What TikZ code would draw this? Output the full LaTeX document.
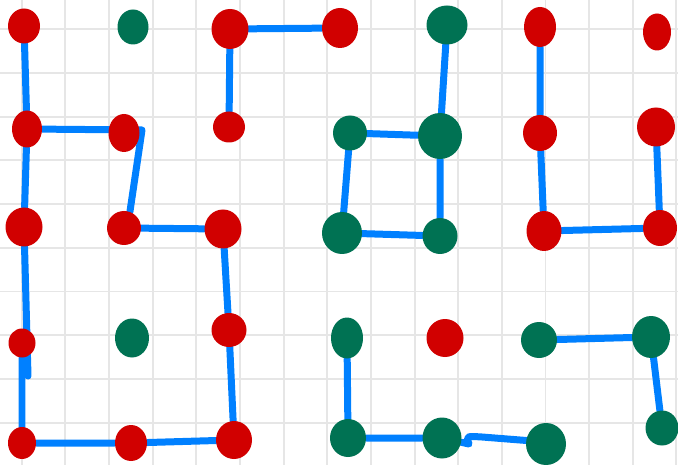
\documentclass[tikz,border=0pt]{standalone}
\usepackage{tikz}
\usetikzlibrary{
  shapes.geometric,
  backgrounds
}
\tikzset{
  every node/.style={inner sep=0pt}
}
\definecolor{dotRed}{RGB}{209, 0, 0}
\definecolor{dotGreen}{RGB}{0, 114, 83}
\definecolor{linkBlue}{RGB}{0, 128, 255}
\definecolor{gridGray}{RGB}{230, 230, 230}

\begin{document}
\begin{tikzpicture}[
    x=0.02cm, y=-0.02cm,
    dot/.style={ellipse, draw=none, inner sep=0pt},
    reddot/.style={dot, fill=dotRed},
    greendot/.style={dot, fill=dotGreen},
    sz/.style 2 args={minimum width=#1*0.02cm, minimum height=#2*0.02cm},
    gridline/.style={draw=gridGray, line width=1.1pt},
    link/.style={draw=linkBlue, line width=0.14cm, line cap=round, line join=round}
]

    \useasboundingbox (0,0) rectangle (678,465);

    % row 1
    \node[reddot, sz={32}{35}] (a1) at (24,26) {};
    \node[greendot, sz={31}{35}] (b1) at (133,27) {};
    \node[reddot, sz={37}{40}] (c1) at (230,29) {};
    \node[reddot, sz={36}{40}] (d1) at (340,28) {};
    \node[greendot, sz={41}{39}] (e1) at (447,25) {};
    \node[reddot, sz={32}{40}] (f1) at (540,27) {};
    \node[reddot, sz={28}{37}] (g1) at (657,32) {};

    % row 2
    \node[reddot, sz={30}{37}] (a2) at (27,129) {};
    \node[reddot, sz={31}{38}] (b2) at (124,133) {};
    \node[reddot, sz={32}{31}] (c2) at (229,127) {};
    \node[greendot, sz={34}{35}] (d2) at (350,133) {};
    \node[greendot, sz={44}{46}] (e2) at (440,136) {};
    \node[reddot, sz={34}{36}] (f2) at (540,133) {};
    \node[reddot, sz={38}{39}] (g2) at (656,127) {};

    % row 3
    \node[reddot, sz={37}{39}] (a3) at (24,227) {};
    \node[reddot, sz={34}{34}] (b3) at (124,228) {};
    \node[reddot, sz={37}{39}] (c3) at (223,229) {};
    \node[greendot, sz={40}{42}] (d3) at (342,233) {};
    \node[greendot, sz={35}{36}] (e3) at (440,236) {};
    \node[reddot, sz={35}{40}] (f3) at (544,231) {};
    \node[reddot, sz={34}{36}] (g3) at (660,228) {};

    % row 4
    \node[reddot, sz={27}{29}] (a4) at (22,343) {};
    \node[greendot, sz={34}{39}] (b4) at (132,338) {};
    \node[reddot, sz={35}{34}] (c4) at (229,330) {};
    \node[greendot, sz={32}{41}] (d4) at (347,338) {};
    \node[reddot, sz={37}{38}] (e4) at (445,338) {};
    \node[greendot, sz={36}{36}] (f4) at (539,340) {};
    \node[greendot, sz={38}{42}] (g4) at (651,337) {};

    % row 5
    \node[reddot, sz={28}{32}] (a5) at (22,443) {};
    \node[reddot, sz={32}{36}] (b5) at (131,443) {};
    \node[reddot, sz={36}{38}] (c5) at (234,440) {};
    \node[greendot, sz={36}{38}] (d5) at (348,438) {};
    \node[greendot, sz={39}{41}] (e5) at (442,438) {};
    \node[greendot, sz={40}{42}] (f5) at (546,444) {};
    \node[greendot, sz={33}{35}] (g5) at (662,428) {};

    \coordinate (bend) at (142,130);
    \coordinate (stub) at (28,376);
    \coordinate (hook) at (469,444);

    \begin{scope}[on background layer]
        \fill[white] (0,0) rectangle (678,465);

        % grid
        \foreach \i in {0,...,15}
            \draw[gridline] (21.7+43.65*\i,0) -- (21.7+43.65*\i,465);
        \foreach \j in {0,...,10}
            \draw[gridline] (0,29.3+43.7*\j) -- (678,29.3+43.7*\j);

        % red, left
        \draw[link] (a1) -- (a2) -- (a3) -- (stub);
        \draw[link] (a2) -- (bend) -- (b3.70);
        \draw[link] (b3) -- (c3) -- (c4) -- (c5) -- (b5) -- (a5) -- (a4);
        \draw[link] (c2) -- (c1) -- (d1);

        % green, middle
        \draw[link] (e1) -- (e2) -- (e3) -- (d3) -- (d2) -- (e2);

        % red, right
        \draw[link] (f1) -- (f2) -- (f3) -- (g3) -- (g2);

        % green, bottom
        \draw[link] (d4) -- (d5) -- (e5) -- (hook) .. controls (466,436) .. (482,437) -- (f5.170);
        \draw[link] (f4) -- (g4) -- (g5);
    \end{scope}

\end{tikzpicture}
\end{document}
